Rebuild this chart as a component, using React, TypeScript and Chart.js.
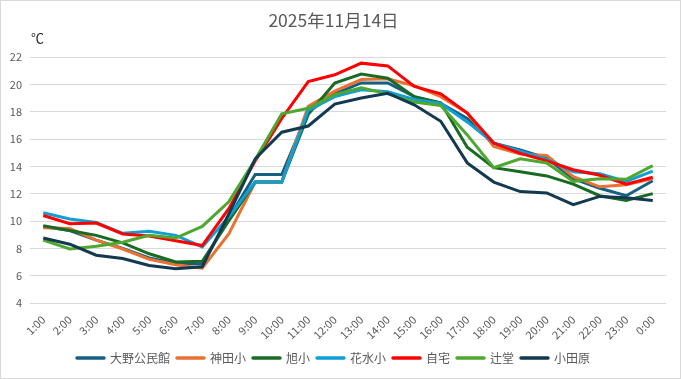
import { useEffect, useRef } from "react";
import { Chart, registerables } from "chart.js";

Chart.register(...registerables);

const hours = [
  "1:00", "2:00", "3:00", "4:00", "5:00", "6:00", "7:00", "8:00", "9:00", "10:00", "11:00", "12:00",
  "13:00", "14:00", "15:00", "16:00", "17:00", "18:00", "19:00", "20:00", "21:00", "22:00", "23:00", "0:00",
];

const seriesNames = ["大野公民館", "神田小", "旭小", "花水小", "自宅", "辻堂", "小田原"];
const seriesColors = ["#156082", "#E97132", "#196B24", "#0F9ED5", "#FF0000", "#4EA72E", "#12394F"];

const ohno = [9.6, 9.3, 8.6, 8.0, 7.3, 6.9, 6.85, 10.2, 13.4, 13.4, 18.0, 19.3, 20.1, 20.1, 19.1, 18.6, 17.5, 15.7, 15.2, 14.6, 13.1, 12.4, 11.85, 12.95];
const kanda = [9.5, 9.45, 8.6, 7.95, 7.2, 6.8, 6.55, 9.05, 12.85, 12.85, 18.4, 19.5, 20.35, 20.4, 19.9, 19.1, 17.9, 15.45, 14.9, 14.8, 13.25, 12.5, 12.65, 13.1];
const asahi = [9.65, 9.3, 8.95, 8.4, 7.6, 7.0, 7.05, 10.0, 12.85, 12.85, 17.8, 20.1, 20.75, 20.45, 19.1, 18.65, 15.4, 13.9, 13.6, 13.3, 12.7, 11.85, 11.5, 12.0];
const hanamizu = [10.6, 10.15, 9.9, 9.1, 9.25, 8.95, 8.1, 10.3, 12.85, 12.85, 18.1, 19.1, 19.6, 19.45, 18.9, 18.6, 17.25, 15.7, 15.1, 14.5, 13.6, 13.45, 12.9, 13.65];
const jitaku = [10.4, 9.8, 9.85, 9.05, 8.9, 8.55, 8.2, 10.9, 14.4, 17.5, 20.2, 20.7, 21.55, 21.35, 19.85, 19.3, 17.9, 15.7, 14.95, 14.4, 13.75, 13.35, 12.7, 13.2];
const tsujido = [8.6, 7.95, 8.15, 8.45, 8.95, 8.75, 9.6, 11.4, 14.5, 17.85, 18.25, 19.25, 19.75, 19.3, 18.7, 18.45, 16.3, 13.9, 14.55, 14.25, 12.9, 13.1, 13.05, 14.05];
const odawara = [8.75, 8.3, 7.5, 7.25, 6.75, 6.5, 6.65, 10.5, 14.55, 16.5, 16.95, 18.55, 19.0, 19.35, 18.5, 17.3, 14.25, 12.85, 12.15, 12.05, 11.2, 11.8, 11.7, 11.5];

const seriesValues = [ohno, kanda, asahi, hanamizu, jitaku, tsujido, odawara];

const titleText = "2025年11月14日";
const unitText = "℃";
const yMin = 4;
const yMax = 22;
const yStep = 2;

const FONT = "'Noto Sans CJK JP', 'Noto Sans', sans-serif";

export default function App() {
  const ref = useRef<HTMLCanvasElement>(null);

  useEffect(() => {
    document.body.style.margin = "0";
    const unitPlugin = {
      id: "unitLabel",
      afterDraw(chart: any) {
        const { ctx, chartArea } = chart;
        ctx.save();
        ctx.font = `13px ${FONT}`;
        ctx.fillStyle = "#262626";
        ctx.textAlign = "left";
        ctx.textBaseline = "middle";
        ctx.fillText(unitText, chartArea.left + 1, chartArea.top - 19);
        ctx.restore();
      },
    };

    const n = seriesNames.length;
    const chart = new Chart(ref.current!, {
      type: "line",
      data: {
        labels: hours,
        datasets: seriesNames.map((name, i) => ({
          label: name,
          data: seriesValues[i],
          borderColor: seriesColors[i],
          backgroundColor: seriesColors[i],
          borderWidth: 3,
          pointRadius: 0,
          pointHoverRadius: 0,
          tension: 0,
          fill: false,
          order: n - i,
        })),
      },
      options: {
        responsive: false,
        animation: false,
        layout: { padding: { left: 0, right: 14, top: 0, bottom: 4 } },
        font: { family: FONT },
        plugins: {
          title: {
            display: true,
            text: titleText,
            color: "#595959",
            font: { size: 17.5, family: FONT, weight: "normal" },
            padding: { top: 9, bottom: 26 },
          },
          legend: {
            position: "bottom",
            labels: {
              usePointStyle: true,
              pointStyleWidth: 27,
              boxHeight: 12,
              padding: 7,
              color: "#595959",
              font: { size: 12, family: FONT },
              sort: (a: any, b: any) => a.datasetIndex - b.datasetIndex,
              generateLabels: (c: any) =>
                c.data.datasets.map((ds: any, i: number) => ({
                  text: ds.label,
                  fillStyle: seriesColors[i],
                  strokeStyle: seriesColors[i],
                  lineWidth: 3.5,
                  lineCap: "round",
                  pointStyle: "line",
                  hidden: false,
                  datasetIndex: i,
                  fontColor: "#595959",
                })),
            },
          },
          tooltip: { enabled: false },
        },
        scales: {
          x: {
            offset: true,
            grid: { display: false },
            border: { display: false },
            ticks: {
              autoSkip: false,
              maxRotation: 45,
              minRotation: 45,
              color: "#595959",
              font: { size: 11, family: FONT },
              padding: 2,
            },
            afterFit: (scale: any) => {
              scale.height = 42;
            },
          },
          y: {
            min: yMin,
            max: yMax,
            border: { display: false },
            grid: { color: "#D9D9D9", lineWidth: 1, drawTicks: false },
            ticks: {
              stepSize: yStep,
              color: "#595959",
              font: { size: 11, family: FONT },
              padding: 8,
            },
            afterFit: (scale: any) => {
              scale.width = 29;
            },
          },
        },
      },
      plugins: [unitPlugin],
    });
    return () => chart.destroy();
  }, []);

  return (
    <div
      style={{
        position: "absolute",
        left: 0,
        top: 0,
        width: 681,
        height: 379,
        boxSizing: "border-box",
        border: "1px solid #d9d9d9",
        background: "#fff",
      }}
    >
      <canvas ref={ref} width={679} height={377} style={{ display: "block", width: 679, height: 377 }} />
    </div>
  );
}
